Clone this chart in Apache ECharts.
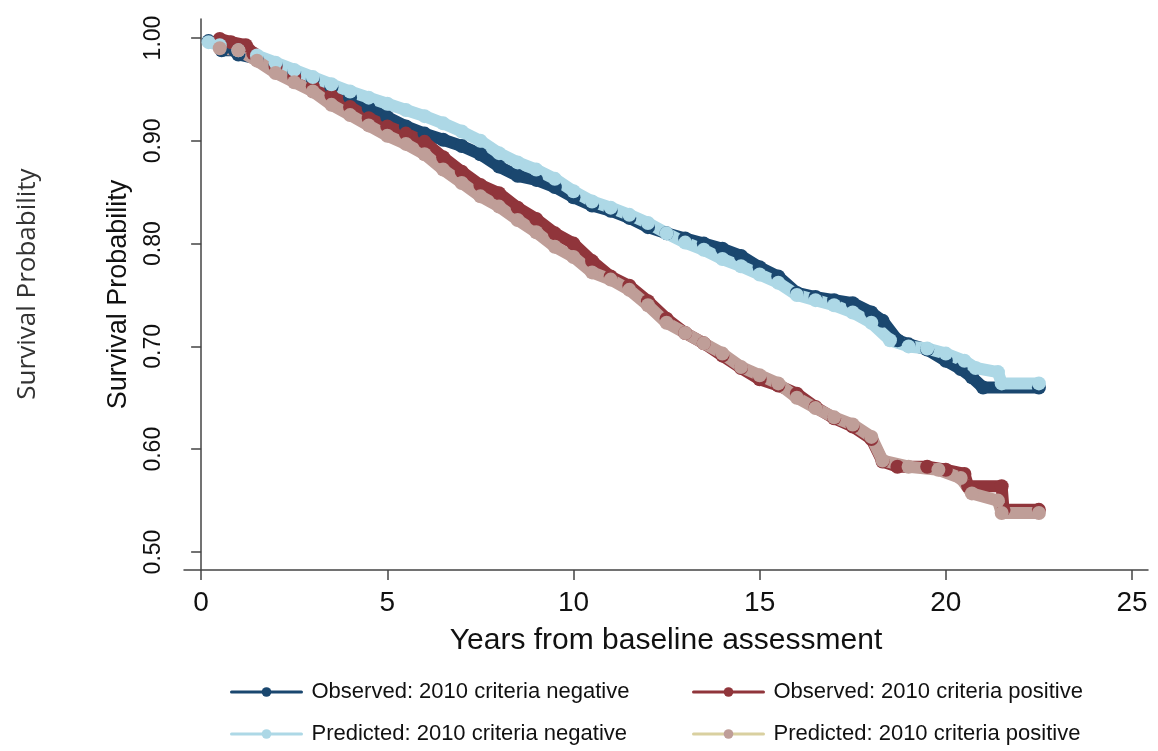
<!DOCTYPE html>
<html>
<head>
<meta charset="utf-8">
<script src="https://cdn.jsdelivr.net/npm/echarts@6/dist/echarts.min.js"></script>
<style>
    html, body { margin: 0; padding: 0; background: #fff; }
    #chart_survie { width: 1158px; height: 751px; }
</style>
</head>
<body>
<div id="chart_survie"></div>
<script>
// Valeurs : [années, probabilité de survie]
var obsNegative = [
    [0.2, 0.997], [0.5, 0.993], [0.55, 0.988], [0.9, 0.988], [1.0, 0.984], [1.5, 0.980],
    [2.0, 0.974], [2.5, 0.967], [3.0, 0.960], [3.5, 0.952], [4.0, 0.942], [4.5, 0.932],
    [5.0, 0.923], [5.5, 0.914], [6.0, 0.907], [6.5, 0.901], [7.0, 0.895], [7.5, 0.887],
    [8.0, 0.875], [8.5, 0.866], [9.0, 0.862], [9.5, 0.855], [10.0, 0.845], [10.5, 0.837],
    [11.0, 0.832], [11.5, 0.825], [12.0, 0.816], [12.5, 0.810], [13.0, 0.805], [13.5, 0.800],
    [14.0, 0.795], [14.5, 0.788], [15.0, 0.777], [15.5, 0.768], [16.0, 0.752], [16.5, 0.748],
    [17.0, 0.745], [17.5, 0.742], [18.0, 0.733], [18.3, 0.725], [18.7, 0.706], [19.0, 0.702],
    [19.5, 0.697], [20.0, 0.686], [20.4, 0.678], [20.7, 0.670], [21.0, 0.660], [22.5, 0.660]
];
var obsPositive = [
    [0.5, 0.999], [0.8, 0.996], [1.2, 0.993], [1.4, 0.985], [2.0, 0.972], [2.5, 0.962],
    [3.0, 0.953], [3.5, 0.944], [4.0, 0.933], [4.5, 0.922], [5.0, 0.914], [5.5, 0.907],
    [6.0, 0.899], [6.5, 0.884], [7.0, 0.870], [7.5, 0.857], [8.0, 0.849], [8.5, 0.835],
    [9.0, 0.824], [9.5, 0.810], [10.0, 0.800], [10.5, 0.783], [11.0, 0.768], [11.5, 0.759],
    [12.0, 0.744], [12.5, 0.727], [13.0, 0.713], [13.5, 0.703], [14.0, 0.691], [14.5, 0.679],
    [15.0, 0.668], [15.5, 0.662], [16.0, 0.654], [16.5, 0.641], [17.0, 0.630], [17.5, 0.622],
    [18.0, 0.610], [18.3, 0.588], [18.7, 0.583], [19.5, 0.583], [20.0, 0.580], [20.5, 0.576],
    [20.6, 0.564], [21.5, 0.564], [21.55, 0.541], [22.5, 0.541]
];
var predNegative = [
    [0.2, 0.996], [0.5, 0.993], [1.0, 0.988], [1.5, 0.983], [2.0, 0.976], [2.5, 0.969],
    [3.0, 0.962], [3.5, 0.955], [4.0, 0.948], [4.5, 0.942], [5.0, 0.936], [5.5, 0.930],
    [6.0, 0.924], [6.5, 0.917], [7.0, 0.909], [7.5, 0.900], [8.0, 0.888], [8.5, 0.879],
    [9.0, 0.872], [9.5, 0.863], [10.0, 0.851], [10.5, 0.841], [11.0, 0.835], [11.5, 0.828],
    [12.0, 0.820], [12.5, 0.810], [13.0, 0.801], [13.5, 0.794], [14.0, 0.785], [14.5, 0.778],
    [15.0, 0.770], [15.5, 0.762], [16.0, 0.750], [16.5, 0.745], [17.0, 0.740], [17.5, 0.733],
    [18.0, 0.723], [18.5, 0.706], [19.0, 0.700], [19.5, 0.698], [20.0, 0.693], [20.5, 0.686],
    [20.8, 0.679], [21.4, 0.675], [21.5, 0.664], [22.5, 0.664]
];
var predPositive = [
    [0.5, 0.990], [1.0, 0.988], [1.5, 0.978], [2.0, 0.966], [2.5, 0.957], [3.0, 0.948],
    [3.5, 0.935], [4.0, 0.925], [4.5, 0.915], [5.0, 0.905], [5.5, 0.897], [6.0, 0.887],
    [6.5, 0.872], [7.0, 0.859], [7.5, 0.846], [8.0, 0.836], [8.5, 0.823], [9.0, 0.811],
    [9.5, 0.797], [10.0, 0.787], [10.5, 0.772], [11.0, 0.765], [11.5, 0.755], [12.0, 0.740],
    [12.5, 0.723], [13.0, 0.713], [13.5, 0.703], [14.0, 0.693], [14.5, 0.680], [15.0, 0.672],
    [15.5, 0.664], [16.0, 0.650], [16.5, 0.640], [17.0, 0.631], [17.5, 0.624], [18.0, 0.612],
    [18.3, 0.589], [19.0, 0.583], [19.8, 0.580], [20.4, 0.572], [20.7, 0.557], [21.4, 0.550],
    [21.5, 0.538], [22.5, 0.538]
];

// Graduations des axes
var xTicks = [0, 5, 10, 15, 20, 25];
var yTicks = [0.5, 0.6, 0.7, 0.8, 0.9, 1.0];

var seriesNames = [
    'Observed: 2010 criteria negative',
    'Observed: 2010 criteria positive',
    'Predicted: 2010 criteria negative',
    'Predicted: 2010 criteria positive'
];

var chartSurvie = function () {
    var police = 'Liberation Sans, Arial, sans-serif';

    var makeSerie = function (name, data, color) {
        return {
            name: name,
            type: 'line',
            data: data,
            symbol: 'circle',
            symbolSize: 14,
            showSymbol: true,
            animation: false,
            lineStyle: { color: color, width: 12, cap: 'round', join: 'round' },
            itemStyle: { color: color }
        };
    };

    // Une légende par colonne, empilée verticalement
    var makeLegende = function (left, data) {
        return {
            orient: 'vertical',
            left: left,
            top: 681,
            padding: 0,
            itemWidth: 70,
            itemHeight: 12,
            itemGap: 20,
            lineStyle: { width: 3 },
            textStyle: { fontFamily: police, fontSize: 22, color: '#111', padding: [0, 0, 0, 5] },
            data: data
        };
    };

    var init = function () {
        var myChart = echarts.init(document.getElementById('chart_survie'));

        myChart.setOption({
            backgroundColor: '#ffffff',
            animation: false,
            grid: { left: 184, right: 10, top: 19, bottom: 181 },
            xAxis: {
                type: 'value',
                min: -0.46,
                max: 25.43,
                name: 'Years from baseline assessment',
                nameLocation: 'middle',
                nameGap: 56,
                nameTextStyle: { fontFamily: police, fontSize: 30, color: '#111' },
                axisLine: { show: true, lineStyle: { color: '#444', width: 1.5 } },
                axisTick: { show: true, length: 10, lineStyle: { color: '#444', width: 1.5 }, customValues: xTicks },
                axisLabel: { margin: 19, fontFamily: police, fontSize: 28, color: '#111', customValues: xTicks },
                splitLine: { show: false }
            },
            yAxis: {
                type: 'value',
                min: 0.4825,
                max: 1.0185,
                name: 'Survival Probability',
                nameLocation: 'middle',
                nameGap: 52,
                nameTextStyle: { fontFamily: police, fontSize: 27, color: '#111' },
                axisLine: { show: true, lineStyle: { color: '#444', width: 1.5 } },
                axisTick: { show: true, length: 10, lineStyle: { color: '#444', width: 1.5 }, customValues: yTicks },
                axisLabel: {
                    rotate: 90,
                    margin: 19,
                    fontFamily: police,
                    fontSize: 23,
                    color: '#111',
                    customValues: yTicks,
                    formatter: function (v) { return v.toFixed(2); }
                },
                splitLine: { show: false }
            },
            legend: [
                makeLegende(230, [seriesNames[0], seriesNames[2]]),
                makeLegende(692, [seriesNames[1], { name: seriesNames[3], lineStyle: { color: '#d9d0a0' } }])
            ],
            // Titre extérieur de l'axe Y (police différente dans l'original)
            graphic: [{
                type: 'text',
                x: 28,
                y: 284,
                rotation: Math.PI / 2,
                style: {
                    text: 'Survival Probability',
                    font: '26px "Open Sans", sans-serif',
                    fill: '#333',
                    textAlign: 'center',
                    textVerticalAlign: 'middle'
                }
            }],
            series: [
                makeSerie(seriesNames[0], obsNegative, '#1a476f'),
                makeSerie(seriesNames[1], obsPositive, '#90353b'),
                makeSerie(seriesNames[2], predNegative, '#add8e6'),
                makeSerie(seriesNames[3], predPositive, '#bf9e98')
            ]
        });
    };

    return {
        init: function () {
            init();
        }
    };
}();

chartSurvie.init();
</script>
</body>
</html>
